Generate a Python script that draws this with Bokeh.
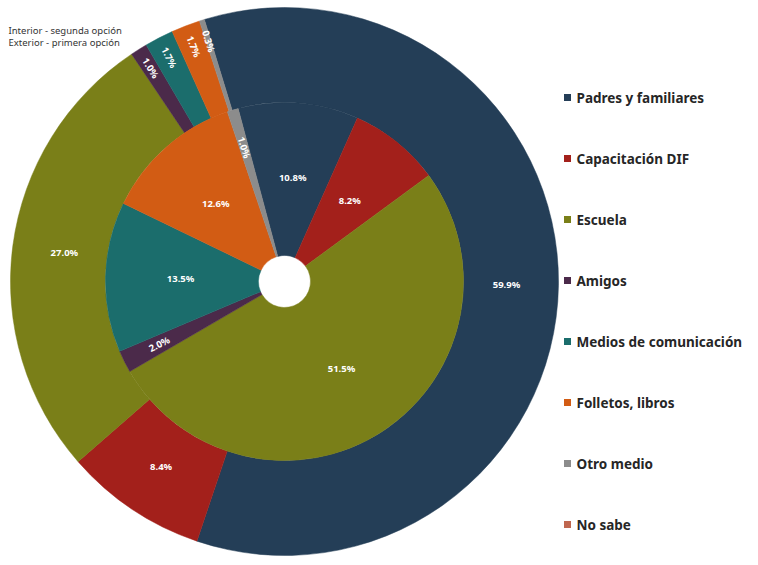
import math
from bokeh.plotting import figure
from bokeh.models import Range1d, ColumnDataSource
from bokeh.embed import file_html
from bokeh.resources import INLINE
from bokeh.core.properties import value

categories = ["Padres y familiares", "Capacitación DIF", "Escuela", "Amigos",
              "Medios de comunicación", "Folletos, libros", "Otro medio", "No sabe"]
outer_values = [59.9, 8.4, 27.0, 1.0, 1.7, 1.7, 0.3, 0.0]   # Exterior - primera opción
inner_values = [10.8, 8.2, 51.5, 2.0, 13.5, 12.6, 1.0, 0.0]  # Interior - segunda opción
colors = ["#243e57", "#a3201b", "#7a7f18", "#4b2a4a", "#1b6d6c", "#d25c14", "#8c8c8c", "#c0674f"]
note_lines = ["Interior - segunda opción", "Exterior - primera opción"]

W, H = 750, 557
CX, CY = 284, H - 281
R_OUT, R_MID, R_HOLE = 274, 179, 26

p = figure(width=W, height=H, output_backend="svg", toolbar_location=None,
           x_range=Range1d(0, W), y_range=Range1d(0, H), min_border=0,
           x_axis_location=None, y_axis_location=None)
p.grid.visible = False
p.outline_line_color = None
p.background_fill_color = "white"


def ring(values, first_deg, r_in, r_out, lab_r, small_r):
    total = sum(values)
    theta = first_deg
    rows = dict(s=[], e=[], c=[])
    labs = dict(x=[], y=[], t=[], a=[])
    for v, c in zip(values, colors):
        if v <= 0:
            continue
        span = v / total * 360.0
        t0, t1 = theta, theta + span
        rows["s"].append(math.radians(90 - t1))
        rows["e"].append(math.radians(90 - t0))
        rows["c"].append(c)
        mid = (t0 + t1) / 2.0
        small = v < 2.5
        r = small_r if small else lab_r
        labs["x"].append(CX + r * math.sin(math.radians(mid)))
        labs["y"].append(CY + r * math.cos(math.radians(mid)))
        labs["t"].append(f"{v:.1f}%")
        ang = 0.0
        if small:
            ang = 90 - mid
            while ang > 90:
                ang -= 180
            while ang < -90:
                ang += 180
        labs["a"].append(math.radians(ang))
        theta = t1
    src = ColumnDataSource(rows)
    p.annular_wedge(x=CX, y=CY, inner_radius=r_in, outer_radius=r_out,
                    start_angle="s", end_angle="e", fill_color="c",
                    line_color="c", line_width=0.5, source=src)
    p.text(x="x", y="y", text="t", angle="a", source=ColumnDataSource(labs),
           text_color="white", text_font=value("Noto Sans"), text_font_style="bold",
           text_font_size="9.5px", text_align="center", text_baseline="middle")


ring(outer_values, -17, R_MID, R_OUT, 222, 252)
ring(inner_values, -15, R_HOLE, R_MID, 104, 140)

# legend
leg_y = [H - 97 - i * 61 for i in range(len(categories))]
p.scatter(x=[567] * len(categories), y=leg_y, marker="square", size=7,
          fill_color=colors, line_color=None)
p.text(x=[576] * len(categories), y=leg_y, text=categories,
       text_font=value("Noto Sans"), text_font_style="bold", text_font_size="13.5px",
       text_color="#262626", text_baseline="middle", text_align="left")

# note
p.text(x=[8, 8], y=[H - 30, H - 42], text=note_lines,
       text_font=value("Noto Sans"), text_font_size="9.5px", text_color="#333333",
       text_baseline="middle", text_align="left")

open("out.html", "w").write(file_html(p, INLINE))
